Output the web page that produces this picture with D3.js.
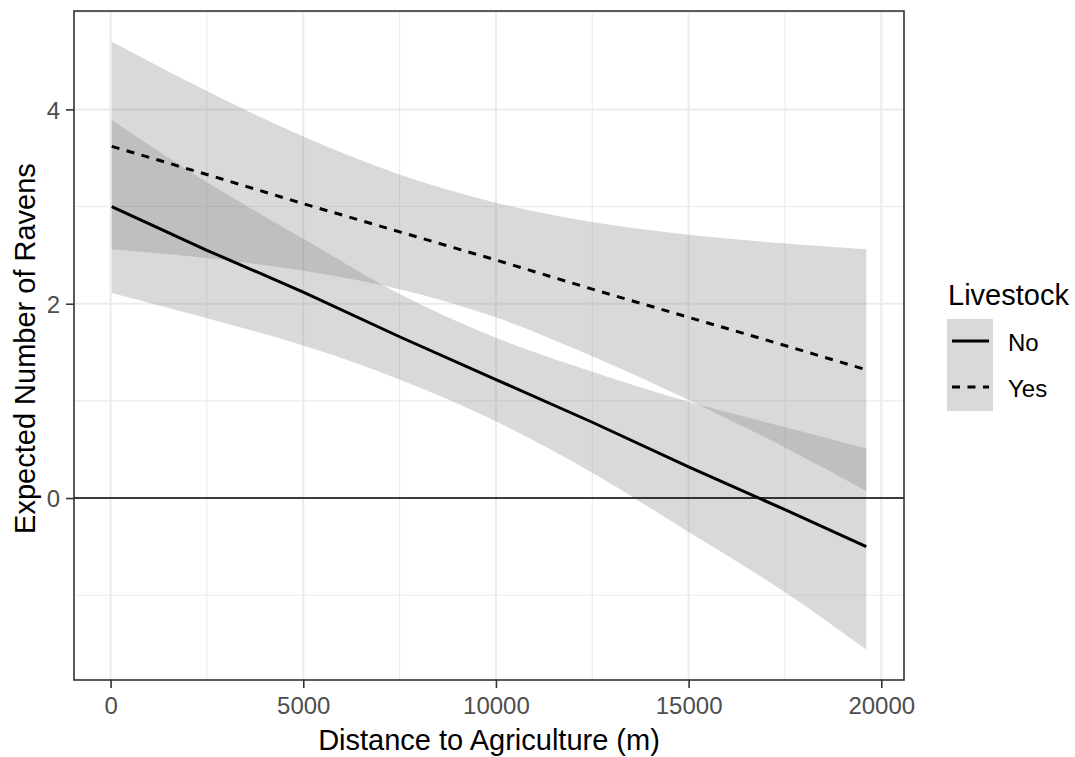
<!DOCTYPE html>
<html>
<head>
<meta charset="utf-8">
<script src="https://cdn.jsdelivr.net/npm/d3@7"></script>
<style>
	body { margin: 0; background: #fff; }
	svg text { font-family: "Liberation Sans", Arial, sans-serif; }
</style>
</head>
<body>
<div class="vis"></div>
<script>

//********************//
//  DATA (read off)   //
//********************//

// distance to agriculture (m)
var distance = [30, 2500, 5000, 7500, 10000, 12500, 15000, 17500, 19610];

// Livestock = No
var noFit   = [3.00, 2.55, 2.12, 1.66, 1.22, 0.78, 0.32, -0.12, -0.50];
var noLower = [2.11, 1.85, 1.57, 1.22, 0.79, 0.26, -0.35, -0.97, -1.56];
var noUpper = [3.89, 3.25, 2.67, 2.10, 1.65, 1.30, 0.99, 0.73, 0.51];

// Livestock = Yes
var yesFit   = [3.62, 3.33, 3.03, 2.74, 2.45, 2.15, 1.86, 1.57, 1.32];
var yesLower = [2.56, 2.47, 2.34, 2.15, 1.86, 1.46, 1.01, 0.52, 0.07];
var yesUpper = [4.70, 4.19, 3.72, 3.33, 3.04, 2.84, 2.71, 2.62, 2.56];

var groups = ["No", "Yes"];
var xBreaks = [0, 5000, 10000, 15000, 20000];
var xMinor = [2500, 7500, 12500, 17500];
var yBreaks = [0, 2, 4];
var yMinor = [-1, 1, 3, 5];

var xTitle = "Distance to Agriculture (m)";
var yTitle = "Expected Number of Ravens";
var legendTitle = "Livestock";


//********************//
//  SVG VARIABLES     //
//********************//

var width = 1075, height = 757;

var panel = {
	"left" : 74,
	"right" : 904,
	"top" : 11,
	"bottom" : 680
};

var svg = d3.select(".vis").append("svg")
	.attr("width", width)
	.attr("height", height);

// ggplot style 5% expansion on both axes
var expand = function(ext) {
	var pad = (ext[1] - ext[0]) * 0.05;
	return [ext[0] - pad, ext[1] + pad];
};

var xScale = d3.scaleLinear()
	.domain(expand(d3.extent(distance)))
	.range([panel.left, panel.right]);

var yScale = d3.scaleLinear()
	.domain(expand([d3.min(noLower.concat(yesLower)), d3.max(noUpper.concat(yesUpper))]))
	.range([panel.bottom, panel.top]);

var series = [
	{ "name" : "No",  "fit" : noFit,  "lower" : noLower,  "upper" : noUpper,  "dash" : null },
	{ "name" : "Yes", "fit" : yesFit, "lower" : yesLower, "upper" : yesUpper, "dash" : "8,7.5" }
];

var bandFill = "#888";
var bandOpacity = 0.32;


//********************//
//  GRID              //
//********************//

var grid = svg.append("g");

grid.selectAll(".xminor").data(xMinor).enter().append("line")
	.attr("x1", function(d) { return xScale(d); })
	.attr("x2", function(d) { return xScale(d); })
	.attr("y1", panel.top).attr("y2", panel.bottom)
	.attr("stroke", "#ebebeb").attr("stroke-width", 1.1);

grid.selectAll(".yminor").data(yMinor).enter().append("line")
	.attr("y1", function(d) { return yScale(d); })
	.attr("y2", function(d) { return yScale(d); })
	.attr("x1", panel.left).attr("x2", panel.right)
	.attr("stroke", "#ebebeb").attr("stroke-width", 1.1);

grid.selectAll(".xmajor").data(xBreaks).enter().append("line")
	.attr("x1", function(d) { return xScale(d); })
	.attr("x2", function(d) { return xScale(d); })
	.attr("y1", panel.top).attr("y2", panel.bottom)
	.attr("stroke", "#ebebeb").attr("stroke-width", 2);

grid.selectAll(".ymajor").data(yBreaks).enter().append("line")
	.attr("y1", function(d) { return yScale(d); })
	.attr("y2", function(d) { return yScale(d); })
	.attr("x1", panel.left).attr("x2", panel.right)
	.attr("stroke", "#ebebeb").attr("stroke-width", 2);


//********************//
//  RIBBONS + LINES   //
//********************//

var plot = svg.append("g");

var area = function(s) {
	return d3.area()
		.x(function(d, i) { return xScale(distance[i]); })
		.y0(function(d, i) { return yScale(s.lower[i]); })
		.y1(function(d, i) { return yScale(s.upper[i]); })
		.curve(d3.curveMonotoneX)(distance);
};

var line = function(s) {
	return d3.line()
		.x(function(d, i) { return xScale(distance[i]); })
		.y(function(d, i) { return yScale(s.fit[i]); })(distance);
};

plot.selectAll(".band").data(series).enter().append("path")
	.attr("d", area)
	.attr("fill", bandFill)
	.attr("fill-opacity", bandOpacity);

// horizontal reference line at zero
plot.append("line")
	.attr("x1", panel.left).attr("x2", panel.right)
	.attr("y1", yScale(0)).attr("y2", yScale(0))
	.attr("stroke", "#000").attr("stroke-width", 1.6);

plot.selectAll(".fit").data(series).enter().append("path")
	.attr("d", line)
	.attr("fill", "none")
	.attr("stroke", "#000")
	.attr("stroke-width", 3)
	.attr("stroke-dasharray", function(d) { return d.dash; });


//********************//
//  AXES              //
//********************//

svg.append("rect")
	.attr("x", panel.left).attr("y", panel.top)
	.attr("width", panel.right - panel.left)
	.attr("height", panel.bottom - panel.top)
	.attr("fill", "none")
	.attr("stroke", "#333").attr("stroke-width", 1.6);

var xAxis = svg.append("g")
	.attr("transform", "translate(0," + panel.bottom + ")")
	.call(d3.axisBottom(xScale).tickValues(xBreaks).tickSize(8).tickPadding(6).tickFormat(d3.format("d")));

var yAxis = svg.append("g")
	.attr("transform", "translate(" + panel.left + ",0)")
	.call(d3.axisLeft(yScale).tickValues(yBreaks).tickSize(8).tickPadding(6).tickFormat(d3.format("d")));

[xAxis, yAxis].forEach(function(ax) {
	ax.select(".domain").remove();
	ax.selectAll(".tick line").attr("stroke", "#333").attr("stroke-width", 1.6);
	ax.selectAll(".tick text")
		.attr("fill", "#4d4d4d")
		.style("font-size", "24px")
		.style("font-family", "'Liberation Sans', Arial, sans-serif");
});
xAxis.selectAll(".tick text").attr("dy", "0.85em");
yAxis.selectAll(".tick text").attr("dy", "0.36em");

svg.append("text")
	.attr("x", (panel.left + panel.right) / 2)
	.attr("y", 750)
	.attr("text-anchor", "middle")
	.style("font-size", "29px")
	.text(xTitle);

svg.append("text")
	.attr("transform", "translate(35," + ((panel.top + panel.bottom) / 2 + 3) + ") rotate(-90)")
	.attr("text-anchor", "middle")
	.style("font-size", "29px")
	.text(yTitle);


//********************//
//  LEGEND            //
//********************//

var legend = svg.append("g").attr("transform", "translate(947,319)");
var keySize = 46;

legend.append("text")
	.attr("x", 1).attr("y", -14)
	.style("font-size", "29px")
	.text(legendTitle);

var keys = legend.selectAll(".key").data(series).enter().append("g")
	.attr("transform", function(d, i) { return "translate(0," + (i * keySize) + ")"; });

keys.append("rect")
	.attr("width", keySize).attr("height", keySize)
	.attr("fill", bandFill).attr("fill-opacity", bandOpacity);

keys.append("line")
	.attr("x1", 5).attr("x2", keySize - 4)
	.attr("y1", keySize / 2 - 1).attr("y2", keySize / 2 - 1)
	.attr("stroke", "#000").attr("stroke-width", 3)
	.attr("stroke-dasharray", function(d) { return d.dash; });

keys.append("text")
	.attr("x", 61).attr("y", keySize / 2 + 9)
	.style("font-size", "24px")
	.text(function(d) { return d.name; });

</script>
</body>
</html>
